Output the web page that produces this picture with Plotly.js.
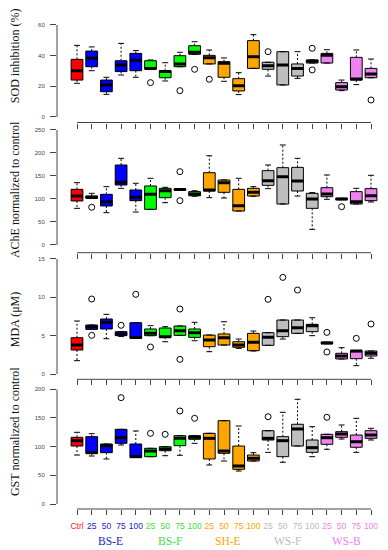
<!DOCTYPE html>
<html><head><meta charset="utf-8">
<script src="https://cdn.plot.ly/plotly-3.0.1.min.js"></script>
<style>html,body{margin:0;padding:0;background:#fff}#chart{width:388px;height:550px}</style>
</head><body><div id="chart"></div>
<script>
// categories
const labels = ['Ctrl','25','50','75','100','25','50','75','100','25','50','75','100','25','50','75','100','25','50','75','100'];
const groupOf = [0,1,1,1,1,2,2,2,2,3,3,3,3,4,4,4,4,5,5,5,5];
const groupNames = ['BS-E','BS-F','SH-E','WS-F','WS-B'];
const groupCenters = [3.5,7.5,11.5,15.5,19.5];
const boxColors = ['#FF0000','#0000FF','#00FF00','#FFA500','#BEBEBE','#EE82EE'];
const labelColors = ['#FF2020','#2222CC','#44DD44','#FFA500','#BBBBBB','#EE82EE'];

// SOD inhibition (%)
const sodQ1  = [24.1,32.8,16.5,29.6,30.2,31.3,25.6,32.8,40.9,34.6,25.9,17.0,31.7,31.1,20.9,26.7,35.2,35.2,17.6,24.1,25.6];
const sodMed = [30.2,38.3,20.9,33.9,37.0,31.7,29.6,34.6,42.2,38.7,35.0,20.4,39.3,33.5,33.9,31.7,36.3,40.2,19.8,24.8,28.0];
const sodQ3  = [37.6,43.0,24.1,36.7,41.5,36.7,30.2,40.0,46.5,40.2,36.1,25.0,49.8,35.7,42.6,34.6,37.2,41.5,22.4,38.9,31.7];
const sodLo  = [22.0,30.2,14.8,27.4,25.9,31.3,23.5,32.8,40.9,34.6,23.3,14.6,31.7,26.7,20.9,25.2,35.2,35.2,17.2,21.1,25.6];
const sodHi  = [46.7,45.7,25.9,48.0,43.3,37.2,35.4,42.2,49.1,43.7,38.5,28.9,53.7,35.7,42.6,42.6,37.2,43.9,24.1,43.7,37.8];
const sodOutIdx = [6,8,9,10,14,17,17,21];
const sodOutVal = [22.4,17.2,31.1,24.6,42.6,44.8,30.7,11.1];

// AChE normalized to control
const acheQ1  = [95.7,101.4,84.8,130.4,96.4,77.5,102.9,119.0,107.0,117.4,114.5,73.9,106.5,129.7,89.1,117.4,79.7,105.0,98.5,89.1,96.4];
const acheMed = [106.5,103.6,94.2,136.2,103.6,110.1,118.0,120.5,111.0,119.6,135.5,85.5,114.5,139.8,148.6,139.1,100.0,110.9,100.0,94.2,107.2];
const acheQ3  = [121.0,106.5,110.1,173.9,119.6,128.3,123.2,122.0,116.0,157.2,141.3,121.0,123.2,161.6,168.1,168.8,112.3,124.6,101.5,116.0,122.5];
const acheLo  = [79.7,101.0,70.3,123.2,71.7,77.5,92.0,119.0,106.0,102.9,102.2,73.9,106.0,122.5,89.1,106.5,34.0,99.3,98.5,89.1,93.5];
const acheHi  = [135.5,112.3,126.8,188.4,134.1,145.0,125.4,122.0,118.0,194.0,141.3,145.0,126.8,173.9,217.4,188.4,113.8,152.2,101.5,123.2,151.5];
const acheOutIdx = [2,8,8,19];
const acheOutVal = [82.0,159.4,96.4,83.3];

// MDA (µM)
const mdaQ1  = [3.13,5.82,5.87,5.00,4.65,5.00,4.78,5.04,4.78,3.56,3.78,3.48,3.04,3.74,4.87,5.30,5.52,3.95,1.96,2.00,2.35];
const mdaMed = [3.78,6.17,6.74,5.17,4.75,5.30,4.87,5.65,5.39,4.43,4.73,3.78,4.13,4.78,5.65,6.04,6.30,4.05,2.35,3.00,2.70];
const mdaQ3  = [4.73,6.39,7.17,5.52,6.69,5.87,6.00,6.26,5.87,5.08,5.22,4.21,5.30,5.39,7.04,7.04,6.48,4.15,2.70,3.04,3.00];
const mdaLo  = [1.74,5.82,4.60,4.90,4.65,5.00,4.21,5.04,4.34,2.91,3.78,3.35,3.00,3.74,4.56,5.30,5.00,3.95,1.96,1.09,2.05];
const mdaHi  = [6.91,6.39,7.78,5.52,6.69,6.30,6.17,6.26,6.74,5.08,6.82,4.56,5.60,5.39,7.04,7.04,7.34,4.15,3.43,3.04,3.00];
const mdaOutIdx = [2,2,4,5,6,8,8,14,15,16,18,18,20,21];
const mdaOutVal = [9.78,5.04,6.35,10.39,3.52,8.47,1.91,9.74,12.6,10.95,5.43,2.87,4.65,6.52];

// GST normalized to control
const gstQ1  = [101.1,88.4,89.5,105.8,81.4,82.5,92.9,101.7,112.8,78.5,88.4,60.5,75.0,111.6,82.5,101.1,90.1,104.1,116.3,98.9,114.5];
const gstMed = [110.4,89.5,101.7,115.6,82.5,92.4,95.9,114.5,116.3,114.5,92.4,66.3,79.7,114.5,110.4,130.8,98.2,115.6,122.1,108.6,120.3];
const gstQ3  = [116.3,117.4,104.6,130.2,104.6,97.1,99.9,119.1,119.1,123.2,145.3,101.1,85.4,127.8,117.4,139.0,111.6,121.5,126.1,120.3,127.8];
const gstLo  = [85.4,83.7,78.5,102.9,81.4,82.5,84.2,84.9,105.8,68.0,75.0,57.5,75.0,90.1,72.7,101.1,82.5,95.4,113.3,90.1,111.6];
const gstHi  = [125.0,122.6,104.6,130.2,127.3,97.1,99.9,119.1,119.1,123.2,145.3,136.0,89.5,127.8,159.9,182.6,134.8,121.5,137.8,149.4,132.0];
const gstOutIdx = [4,6,7,8,9,14,18];
const gstOutVal = [185.4,123.2,121.5,162.2,149.4,152.2,151.2];

const panels = [
  {q1:sodQ1, med:sodMed, q3:sodQ3, lo:sodLo, hi:sodHi, oi:sodOutIdx, ov:sodOutVal, ticks:[0,20,40,60], range:[-3.59,63.26], dom:[0.77727,0.96364], title:'SOD inhibition (%)', ty:0.898},
  {q1:acheQ1, med:acheMed, q3:acheQ3, lo:acheLo, hi:acheHi, oi:acheOutIdx, ov:acheOutVal, ticks:[0,50,100,150,200,250], range:[-16.74,258.7], dom:[0.54055,0.77091], title:'AChE normalized to control', ty:0.6545},
  {q1:mdaQ1, med:mdaMed, q3:mdaQ3, lo:mdaLo, hi:mdaHi, oi:mdaOutIdx, ov:mdaOutVal, ticks:[0,5,10,15], range:[-0.691,15.52], dom:[0.31036,0.53636], title:'MDA (\u03bcM)', ty:0.418},
  {q1:gstQ1, med:gstMed, q3:gstQ3, lo:gstLo, hi:gstHi, oi:gstOutIdx, ov:gstOutVal, ticks:[0,50,100,150,200], range:[-8.72,207.5], dom:[0.07455,0.3], title:'GST normalized to control', ty:0.2145}
];

const pos = labels.map((_, i) => i + 1);
const BW = 0.8, CAP = 0.2;
const traces = [];
const layout = {
  width:388, height:550, margin:{l:57, r:10, t:0, b:0},
  paper_bgcolor:'#fff', plot_bgcolor:'#fff', showlegend:false,
  shapes:[], annotations:[]
};

panels.forEach((p, k) => {
  const sx = k === 0 ? '' : String(k + 1);
  const xa = 'x' + sx, ya = 'y' + sx;
  for (let g = 0; g < 6; g++) {
    const idx = pos.map((_, i) => i).filter(i => groupOf[i] === g);
    traces.push({
      type:'box', xaxis:xa, yaxis:ya,
      x: idx.map(i => pos[i]),
      q1: idx.map(i => p.q1[i]), median: idx.map(i => p.med[i]), q3: idx.map(i => p.q3[i]),
      lowerfence: idx.map(i => p.q1[i]), upperfence: idx.map(i => p.q3[i]),
      width: BW, whiskerwidth: 0, boxpoints:false,
      fillcolor: boxColors[g], line:{color:'#000', width:1}, hoverinfo:'skip'
    });
  }
  const wx = [], wy = [], cx = [], cy = [], mx = [], my = [];
  pos.forEach((x, i) => {
    if (p.hi[i] > p.q3[i]) { wx.push(x, x, null); wy.push(p.q3[i], p.hi[i], null); }
    if (p.lo[i] < p.q1[i]) { wx.push(x, x, null); wy.push(p.q1[i], p.lo[i], null); }
    cx.push(x - CAP, x + CAP, null, x - CAP, x + CAP, null);
    cy.push(p.hi[i], p.hi[i], null, p.lo[i], p.lo[i], null);
    mx.push(x - BW/2, x + BW/2, null); my.push(p.med[i], p.med[i], null);
  });
  traces.push({type:'scatter', mode:'lines', xaxis:xa, yaxis:ya, x:wx, y:wy, line:{color:'#000', width:1, dash:'2px,2px'}, hoverinfo:'skip'});
  traces.push({type:'scatter', mode:'lines', xaxis:xa, yaxis:ya, x:cx, y:cy, line:{color:'#000', width:1}, hoverinfo:'skip'});
  traces.push({type:'scatter', mode:'lines', xaxis:xa, yaxis:ya, x:mx, y:my, line:{color:'#000', width:3}, hoverinfo:'skip'});
  traces.push({type:'scatter', mode:'markers', xaxis:xa, yaxis:ya, x:p.oi, y:p.ov,
    marker:{symbol:'circle-open', size:6, color:'#000', line:{width:1, color:'#000'}}, hoverinfo:'skip'});

  const last = k === 3;
  layout['xaxis' + sx] = {
    anchor: ya, domain:[0,1], range:[-0.3605, 21.476], showgrid:false, zeroline:false, showline:false,
    ticks:'outside', ticklen:5, tickwidth:1, tickcolor:'#444',
    tickvals: pos, ticktext: labels.map((l, i) => '<span style="color:' + labelColors[groupOf[i]] + '">' + l + '</span>'),
    showticklabels: last, tickangle:0, ticklabelstandoff:4,
    tickfont:{family:'Liberation Sans, Arial, sans-serif', size:8.5}
  };
  layout['yaxis' + sx] = {
    anchor: xa, domain:p.dom, range:p.range, showgrid:false, zeroline:false, showline:false,
    ticks:'outside', ticklen:6, tickwidth:1, tickcolor:'#444', tickvals:p.ticks,
    ticklabelstandoff:4, tickfont:{family:'Liberation Sans, Arial, sans-serif', size:6, color:'#444'}
  };
  layout.shapes.push({type:'line', xref:'paper', yref:ya, x0:0, x1:0, y0:p.ticks[0], y1:p.ticks[p.ticks.length-1], line:{color:'#444', width:1}});
  layout.shapes.push({type:'line', xref:xa, yref:ya + ' domain', x0:pos[0], x1:pos[pos.length-1], y0:0, y1:0, line:{color:'#444', width:1}});
  layout.annotations.push({xref:'paper', yref:'paper', x:-0.1307, y:p.ty, xanchor:'center', yanchor:'middle',
    text:p.title, textangle:-90, showarrow:false, font:{family:'Liberation Serif', size:12, color:'#111'}});
});

groupNames.forEach((g, j) => {
  layout.annotations.push({xref:'x4', yref:'paper', x:groupCenters[j] - 0.2, y:1 - 541/550, xanchor:'center', yanchor:'middle',
    text:g, showarrow:false, font:{family:'Liberation Serif', size:11.5, weight:'normal', color:labelColors[j + 1]}});
});

Plotly.newPlot('chart', traces, layout, {staticPlot:true, displayModeBar:false});
</script></body></html>
